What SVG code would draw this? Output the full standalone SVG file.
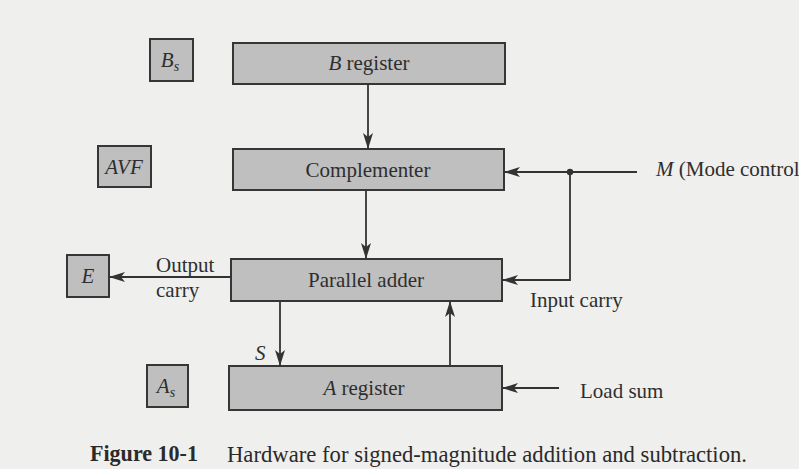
<svg xmlns="http://www.w3.org/2000/svg" width="799" height="469" viewBox="0 0 799 469">
<style>
.box{fill:#bfbfbf;stroke:#363636;stroke-width:2}
.t{font-family:"Liberation Serif","Times New Roman",serif;font-size:21px;fill:#2e2e2e}
.c{text-anchor:middle}
.i{font-style:italic}
.ln{stroke:#333;stroke-width:1.8;fill:none}
.cap{font-family:"Liberation Serif","Times New Roman",serif;font-size:23px;fill:#2a2a2a}
</style>
<defs>
<marker id="ah" viewBox="0 0 16 10" refX="16" refY="5" markerWidth="16" markerHeight="10" markerUnits="userSpaceOnUse" orient="auto">
<path d="M0,0 L16,5 L0,10 L4,5 Z" fill="#333"/>
</marker>
</defs>
<rect width="799" height="469" fill="#efefed"/>

<g id="Bs"><rect class="box" x="150" y="39" width="43" height="42"/><text class="t c i" x="170" y="67">B<tspan font-size="14" dy="4">s</tspan></text></g>
<g id="Breg"><rect class="box" x="233" y="43" width="272" height="41"/><text class="t c" x="369" y="70"><tspan class="i">B</tspan> register</text></g>
<g id="AVF"><rect class="box" x="98" y="146" width="53" height="41"/><text class="t c i" x="124" y="174">AVF</text></g>
<g id="Comp"><rect class="box" x="233" y="149" width="271" height="41"/><text class="t c" x="368" y="177">Complementer</text></g>
<g id="E"><rect class="box" x="67" y="255" width="42" height="42"/><text class="t c i" x="88" y="283">E</text></g>
<g id="Adder"><rect class="box" x="231" y="259" width="271" height="42"/><text class="t c" x="366" y="287">Parallel adder</text></g>
<g id="As"><rect class="box" x="147" y="365" width="41" height="42"/><text class="t c i" x="166" y="393">A<tspan font-size="14" dy="4">s</tspan></text></g>
<g id="Areg"><rect class="box" x="229" y="366" width="273" height="44"/><text class="t c" x="364" y="395"><tspan class="i">A</tspan> register</text></g>

<g id="connectors">
<line class="ln" x1="368" y1="84" x2="368" y2="149" marker-end="url(#ah)"/>
<line class="ln" x1="366" y1="190" x2="366" y2="259" marker-end="url(#ah)"/>
<line class="ln" x1="231" y1="277" x2="109" y2="277" marker-end="url(#ah)"/>
<line class="ln" x1="280" y1="301" x2="280" y2="366" marker-end="url(#ah)"/>
<line class="ln" x1="450" y1="366" x2="450" y2="301" marker-end="url(#ah)"/>
<line class="ln" x1="637" y1="172" x2="504" y2="172" marker-end="url(#ah)"/>
<circle cx="570" cy="172" r="3.2" fill="#333"/>
<polyline class="ln" points="570,172 570,280 502,280" marker-end="url(#ah)"/>
<line class="ln" x1="559" y1="388" x2="502" y2="388" marker-end="url(#ah)"/>
</g>

<g id="labels">
<text class="t" x="156" y="272">Output</text>
<text class="t" x="156" y="297">carry</text>
<text class="t i" x="255" y="360">S</text>
<text class="t" x="656" y="176"><tspan class="i">M</tspan> (Mode control</text>
<text class="t" x="530" y="307">Input carry</text>
<text class="t" x="580" y="398">Load sum</text>
</g>

<g id="caption">
<text class="cap" x="90" y="461" font-weight="bold" textLength="108" lengthAdjust="spacingAndGlyphs">Figure 10-1</text>
<text class="cap" x="227" y="462" textLength="520" lengthAdjust="spacingAndGlyphs">Hardware for signed-magnitude addition and subtraction.</text>
</g>
</svg>
